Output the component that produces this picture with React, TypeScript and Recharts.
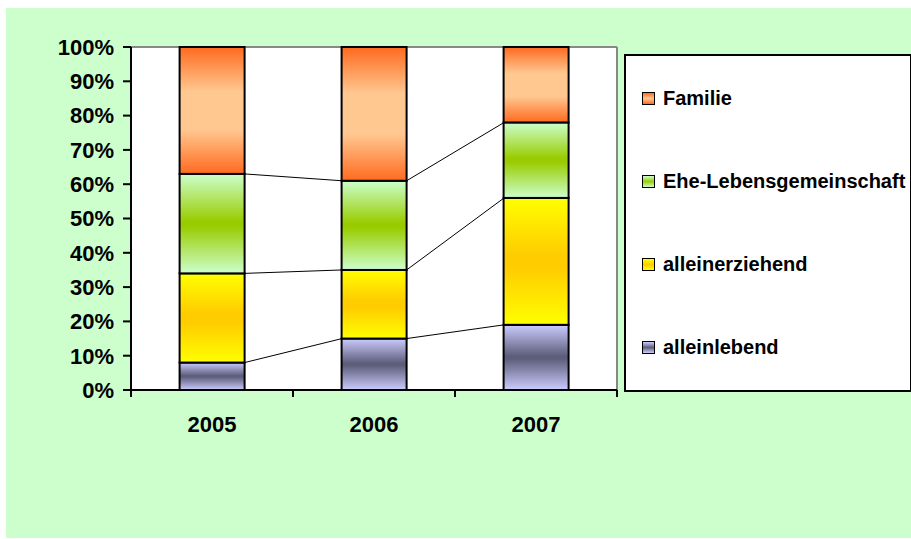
import { Bar, BarChart, CartesianGrid, Legend, XAxis, YAxis } from "recharts";

const YEARS = ["2005", "2006", "2007"];
const ALLEINLEBEND = [8, 15, 19];
const ALLEINERZIEHEND = [26, 20, 37];
const EHE_LEBENSGEMEINSCHAFT = [29, 26, 22];
const FAMILIE = [37, 39, 22];
const Y_TICKS = [0, 10, 20, 30, 40, 50, 60, 70, 80, 90, 100];

// bottom-up stacking order; edge/mid = colours of the vertical gradient, plateau = width of the centre band
const SERIES = [
  { key: "alleinlebend", values: ALLEINLEBEND, edge: "#CCCCFF", mid: "#5E5E7C", plateau: 0.05 },
  { key: "alleinerziehend", values: ALLEINERZIEHEND, edge: "#FFFF00", mid: "#FFCC00", plateau: 0.1 },
  { key: "Ehe-Lebensgemeinschaft", values: EHE_LEBENSGEMEINSCHAFT, edge: "#CCFFCC", mid: "#99CC00", plateau: 0.05 },
  { key: "Familie", values: FAMILIE, edge: "#FF6A1F", mid: "#FFC891", plateau: 0.3 },
];

const BAR_GAP = 0.3;

const chartData = YEARS.map((year, i) => {
  const row: Record<string, string | number> = { year };
  SERIES.forEach((s) => (row[s.key] = s.values[i]));
  return row;
});

const cumulative = (seriesIdx: number, i: number) =>
  SERIES.slice(0, seriesIdx + 1).reduce((sum, s) => sum + s.values[i], 0);

// bar segment plus Excel-style series line to the next bar
const makeShape = (seriesIdx: number) => (props: any) => {
  const { x, y, width, height, index } = props;
  const seg = SERIES[seriesIdx].values[index];
  const ppu = seg ? height / seg : 0;
  const baseY = y + height + (cumulative(seriesIdx, index) - seg) * ppu;
  const showLine = seriesIdx < SERIES.length - 1 && index < YEARS.length - 1;
  const gap = (width * 2 * BAR_GAP) / (1 - 2 * BAR_GAP);
  return (
    <g>
      <rect x={x} y={y} width={width} height={height} fill={`url(#grad-${seriesIdx})`} stroke="#000" strokeWidth={2} />
      {showLine && (
        <line
          x1={x + width}
          y1={y}
          x2={x + width + gap}
          y2={baseY - cumulative(seriesIdx, index + 1) * ppu}
          stroke="#000"
          strokeWidth={1}
        />
      )}
    </g>
  );
};

const YearTick = (props: any) => {
  const { x, y, payload } = props;
  const half = payload.offset ?? 0;
  const last = payload.index === YEARS.length - 1;
  return (
    <g>
      <line x1={x - half} x2={x - half} y1={y} y2={y + 7} stroke="#000" strokeWidth={2} />
      {last && <line x1={x + half} x2={x + half} y1={y} y2={y + 7} stroke="#000" strokeWidth={2} />}
      <text x={x} y={y + 34} textAnchor="middle" dominantBaseline="central" fontSize={22} fontWeight="bold" fill="#000">
        {payload.value}
      </text>
    </g>
  );
};

const LegendBox = () => (
  <div
    style={{
      width: 288,
      height: 338,
      boxSizing: "border-box",
      border: "2px solid #000",
      background: "#fff",
      paddingTop: 30,
      paddingLeft: 16,
      display: "flex",
      flexDirection: "column",
      gap: 59,
    }}
  >
    {[...SERIES].reverse().map((s) => (
      <div key={s.key} style={{ display: "flex", alignItems: "center", height: 24 }}>
        <span
          style={{
            width: 13,
            height: 13,
            boxSizing: "border-box",
            border: "1.5px solid #000",
            background: `linear-gradient(to bottom, ${s.edge}, ${s.mid}, ${s.edge})`,
            marginRight: 8,
          }}
        />
        <span style={{ fontSize: 20, fontWeight: "bold", color: "#000", whiteSpace: "nowrap" }}>{s.key}</span>
      </div>
    ))}
  </div>
);

const App = () => (
  <div
    style={{
      position: "absolute",
      left: 6,
      top: 8,
      width: 905,
      height: 530,
      background: "#CCFFCC",
      overflow: "hidden",
      fontFamily: "'Liberation Sans', Arial, sans-serif",
    }}
  >
    <BarChart
      width={905}
      height={530}
      data={chartData}
      margin={{ top: 39, right: 294, left: 0, bottom: 88 }}
      barCategoryGap={`${BAR_GAP * 100}%`}
    >
      <defs>
        {SERIES.map((s, i) => (
          <linearGradient key={s.key} id={`grad-${i}`} x1="0" y1="0" x2="0" y2="1">
            <stop offset="0%" stopColor={s.edge} />
            <stop offset={`${(0.5 - s.plateau / 2) * 100}%`} stopColor={s.mid} />
            <stop offset={`${(0.5 + s.plateau / 2) * 100}%`} stopColor={s.mid} />
            <stop offset="100%" stopColor={s.edge} />
          </linearGradient>
        ))}
      </defs>
      {/* white plot area with the grey top/right frame */}
      <CartesianGrid
        fill="#fff"
        stroke="#888"
        strokeWidth={2}
        horizontalCoordinatesGenerator={({ offset }: any) => [offset.top]}
        verticalCoordinatesGenerator={({ offset }: any) => [offset.left + offset.width]}
      />
      <XAxis
        dataKey="year"
        interval={0}
        tickLine={false}
        tickSize={0}
        tickMargin={0}
        height={60}
        axisLine={{ stroke: "#000", strokeWidth: 2 }}
        tick={<YearTick />}
      />
      <YAxis
        width={125}
        domain={[0, 100]}
        ticks={Y_TICKS}
        interval={0}
        tickFormatter={(v: number) => `${v}%`}
        tickSize={8}
        tickMargin={9}
        tick={{ fontSize: 22, fontWeight: "bold", fill: "#000" }}
        tickLine={{ stroke: "#000", strokeWidth: 2 }}
        axisLine={{ stroke: "#000", strokeWidth: 2 }}
      />
      <Legend
        layout="horizontal"
        verticalAlign="middle"
        align="center"
        wrapperStyle={{ left: 618, top: 46, width: 288, height: 338 }}
        content={<LegendBox />}
      />
      {SERIES.map((s, i) => (
        <Bar key={s.key} dataKey={s.key} stackId="a" shape={makeShape(i)} isAnimationActive={false} />
      ))}
    </BarChart>
  </div>
);

export default App;
